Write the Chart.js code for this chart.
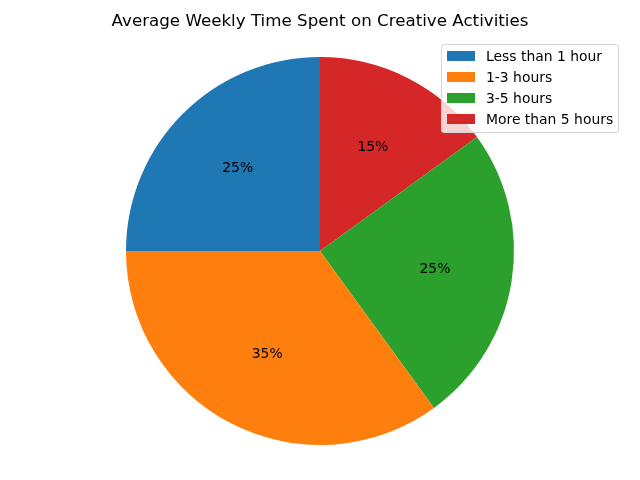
<!DOCTYPE html>
<html>
<head>
<meta charset="utf-8">
<script src="https://cdn.jsdelivr.net/npm/chart.js@4"></script>
<style>
  html, body { margin: 0; padding: 0; background: #fff; }
  #wrap { position: relative; width: 640px; height: 480px; }
  #legend {
    position: absolute; left: 441px; top: 44px; width: 176px; height: 87px;
    background: rgba(255,255,255,0.8); border: 1px solid #d5d5d5; border-radius: 3px;
    font-family: "DejaVu Sans", sans-serif; font-size: 13.9px; color: #000;
  }
  .item { position: absolute; left: 0; height: 16px; line-height: 16px; }
  .sw { position: absolute; left: 5px; top: 3px; width: 28px; height: 10px; }
  .lb { position: absolute; left: 44px; top: 0; white-space: nowrap; }
</style>
</head>
<body>
<div id="wrap">
  <canvas id="pie" width="640" height="480"></canvas>
  <div id="legend"></div>
</div>
<script>
// -------------------- DATA --------------------
const title = "Average Weekly Time Spent on Creative Activities";
const categories = ["Less than 1 hour", "1-3 hours", "3-5 hours", "More than 5 hours"];
const shares = [25, 35, 25, 15];
const colors = ["#1f77b4", "#ff7f0e", "#2ca02c", "#d62728"];

// matplotlib goes counter-clockwise from the top, Chart.js clockwise -> reverse
const drawOrder = [3, 2, 1, 0];

// -------------------- PERCENT LABELS + TITLE --------------------
const pctLabels = {
  id: "pctLabels",
  afterDatasetsDraw(chart) {
    const ctx = chart.ctx;
    const meta = chart.getDatasetMeta(0);
    ctx.save();
    ctx.fillStyle = "#000";
    ctx.textAlign = "center";
    ctx.textBaseline = "middle";
    ctx.font = "13.9px 'DejaVu Sans', sans-serif";
    meta.data.forEach((arc, i) => {
      const mid = (arc.startAngle + arc.endAngle) / 2;
      const r = arc.outerRadius * 0.6;
      const x = arc.x + Math.cos(mid) * r;
      const y = arc.y + Math.sin(mid) * r;
      ctx.fillText(chart.data.datasets[0].data[i] + "%", x, y);
    });
    // title, drawn here so the layout padding doesn't squeeze it
    ctx.font = "16.7px 'DejaVu Sans', sans-serif";
    ctx.fillText(title, chart.width / 2, 22);
    ctx.restore();
  }
};

// -------------------- CHART --------------------
new Chart(document.getElementById("pie"), {
  type: "pie",
  data: {
    labels: drawOrder.map(i => categories[i]),
    datasets: [{
      data: drawOrder.map(i => shares[i]),
      backgroundColor: drawOrder.map(i => colors[i]),
      borderWidth: 0
    }]
  },
  options: {
    responsive: false,
    animation: false,
    rotation: 0,
    layout: { padding: { left: 126, right: 126, top: 57, bottom: 35 } },
    plugins: {
      legend: { display: false },
      tooltip: { enabled: false },
      title: { display: false }
    }
  },
  plugins: [pctLabels]
});

// -------------------- LEGEND --------------------
const legend = document.getElementById("legend");
categories.forEach((name, i) => {
  const item = document.createElement("div");
  item.className = "item";
  item.style.top = (3 + i * 21) + "px";
  item.innerHTML = `<span class="sw" style="background:${colors[i]}"></span><span class="lb">${name}</span>`;
  legend.appendChild(item);
});
</script>
</body>
</html>
